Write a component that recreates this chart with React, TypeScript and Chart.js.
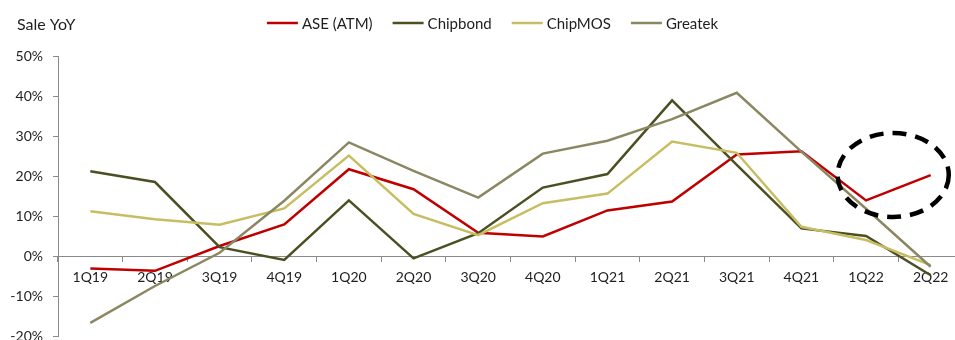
import React, { useEffect, useRef } from "react";
import { Chart, registerables } from "chart.js";

Chart.register(...registerables);

const categories = ["1Q19", "2Q19", "3Q19", "4Q19", "1Q20", "2Q20", "3Q20", "4Q20", "1Q21", "2Q21", "3Q21", "4Q21", "1Q22", "2Q22"];
const seriesNames = ["ASE (ATM)", "Chipbond", "ChipMOS", "Greatek"];
const aseValues = [-3.1, -3.7, 2.5, 7.9, 21.7, 16.7, 5.8, 4.9, 11.4, 13.6, 25.4, 26.2, 13.9, 20.2];
const chipbondValues = [21.2, 18.5, 2.2, -1.0, 13.9, -0.6, 5.7, 17.1, 20.5, 38.9, 22.8, 6.9, 5.0, -4.8];
const chipmosValues = [11.2, 9.2, 7.8, 11.9, 25.1, 10.5, 5.2, 13.2, 15.6, 28.6, 25.8, 7.3, 4.0, -2.3];
const greatekValues = [-16.7, -7.5, 0.8, 13.8, 28.4, 21.3, 14.6, 25.6, 28.8, 34.2, 40.8, 26.1, 11.8, -2.7];
const yMin = -20;
const yMax = 50;
const yStep = 10;
const titleText = "Sale YoY";
// highlighted region (dashed ellipse) in data units: centre index, centre value, half-width (categories), half-height (%)
const highlightCenter = [12.42, 20.25];
const highlightRadii = [0.86, 10.5];

const colors = ["#C00000", "#4C4F22", "#C7BD62", "#8B8762"];
const FONT = "Lato, 'Open Sans', sans-serif";
const TEXT = "#1e1e1e";
const AXIS = "#8a8a8a";

const overlayPlugin = {
  id: "overlay",
  afterDatasetsDraw(chart: any) {
    const { ctx, scales } = chart;
    const x = scales.x;
    const y = scales.y;
    const cx = x.getPixelForValue(highlightCenter[0]);
    const cy = y.getPixelForValue(highlightCenter[1]);
    const rx = x.getPixelForValue(highlightCenter[0] + highlightRadii[0]) - cx;
    const ry = cy - y.getPixelForValue(highlightCenter[1] + highlightRadii[1]);
    ctx.save();
    ctx.beginPath();
    ctx.ellipse(cx, cy, rx, ry, 0, 0, Math.PI * 2);
    ctx.setLineDash([14, 9]);
    ctx.lineWidth = 4.5;
    ctx.strokeStyle = "#000";
    ctx.stroke();
    ctx.restore();
  },
  afterDraw(chart: any) {
    const { ctx } = chart;
    ctx.save();
    // title
    ctx.font = `16px ${FONT}`;
    ctx.fillStyle = TEXT;
    ctx.textBaseline = "middle";
    ctx.textAlign = "left";
    ctx.fillText(titleText, 17, 25);
    // legend
    ctx.font = `15px ${FONT}`;
    const lineLen = 31;
    const gap = 4;
    const spacing = 20;
    const ds = chart.data.datasets;
    const widths = ds.map((d: any) => lineLen + gap + ctx.measureText(d.label).width);
    const total = widths.reduce((a: number, b: number) => a + b, 0) + spacing * (ds.length - 1);
    let px = 492.5 - total / 2;
    const ly = 23;
    ds.forEach((d: any, i: number) => {
      ctx.beginPath();
      ctx.strokeStyle = d.borderColor;
      ctx.lineWidth = 2.5;
      ctx.moveTo(px, ly);
      ctx.lineTo(px + lineLen, ly);
      ctx.stroke();
      ctx.fillStyle = TEXT;
      ctx.fillText(d.label, px + lineLen + gap, ly + 1);
      px += widths[i] + spacing;
    });
    ctx.restore();
  },
};

export default function App() {
  const ref = useRef<HTMLCanvasElement | null>(null);
  useEffect(() => {
    if (!ref.current) return;
    document.body.style.overflow = "hidden";
    const seriesValues = [aseValues, chipbondValues, chipmosValues, greatekValues];
    const chart = new Chart(ref.current, {
      type: "line",
      data: {
        labels: categories,
        datasets: seriesNames.map((name, i) => ({
          label: name,
          data: seriesValues[i],
          borderColor: colors[i],
          backgroundColor: colors[i],
          borderWidth: 2.5,
          pointRadius: 0,
          tension: 0,
          order: seriesNames.length - i,
        })),
      },
      options: {
        animation: false,
        responsive: false,
        layout: { padding: { left: 0, right: 22, top: 56, bottom: 26 } },
        plugins: { legend: { display: false }, tooltip: { enabled: false } },
        scales: {
          x: {
            type: "category",
            position: { y: 0 } as any,
            offset: true,
            grid: { offset: true, drawOnChartArea: false, drawTicks: true, tickLength: 5, color: AXIS },
            border: { color: AXIS, width: 1 },
            ticks: { font: { family: FONT, size: 14 }, color: TEXT, padding: 8, maxRotation: 0, autoSkip: false },
          },
          y: {
            min: yMin,
            max: yMax,
            afterFit: (s: any) => { s.width = 58; },
            grid: { drawOnChartArea: false, drawTicks: true, tickLength: 5, color: AXIS },
            border: { color: AXIS, width: 1 },
            ticks: {
              stepSize: yStep,
              padding: 10,
              font: { family: FONT, size: 14 },
              color: TEXT,
              callback: (v: any) => `${v}%`,
            },
          },
        },
      },
      plugins: [overlayPlugin],
    });
    return () => chart.destroy();
  }, []);
  return (
    <div style={{ position: "fixed", left: 0, top: 0, width: 985, height: 362, overflow: "hidden" }}>
      <canvas ref={ref} width={985} height={362} />
    </div>
  );
}
